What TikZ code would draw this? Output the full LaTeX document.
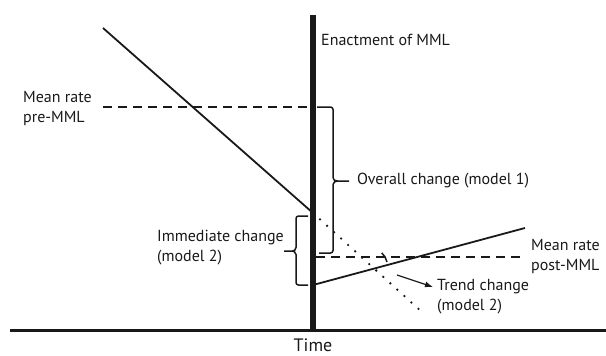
\documentclass[tikz,border=0pt]{standalone}
\usepackage{fontspec}
\setmainfont{PT Sans}
\usetikzlibrary{arrows.meta}
\begin{document}
\begin{tikzpicture}[x=1pt,y=-1pt,
  lbl/.style={font=\fontsize{16}{20}\selectfont, align=left, inner sep=0pt, text=black!90},
  trendline/.style={line width=1.8pt, black!90},
  meanline/.style={line width=1.8pt, black!90, dash pattern=on 9pt off 6pt},
  projline/.style={line width=2.6pt, black!90, line cap=round, dash pattern=on 0pt off 9.5pt},
  bracket/.style={line width=1.5pt, black!90, rounded corners=2.5pt},
  axis/.style={line width=3pt, black!90}]
\useasboundingbox (0,0) rectangle (606,356);

% axes: event line and time axis
\coordinate (evtop) at (313,15);
\coordinate (evbot) at (313,331);
\coordinate (axl) at (10,330);
\coordinate (axr) at (606,330);
\draw[axis] (axl) -- (axr);
\draw[line width=6pt, black!90] (evtop) -- (evbot);
\node[lbl, font=\fontsize{18}{20}\selectfont, anchor=center] (time) at (313,345) {Time};
\node[lbl, anchor=west] (enact) at (321,40) {Enactment of MML};

% pre-intervention trend and mean
\coordinate (pre0) at (103,28);
\coordinate (pre1) at (313,213);
\coordinate (proj) at (423,313);
\draw[trendline] (pre0) -- (pre1);
\draw[projline] (pre1) -- (proj);
\coordinate (mpre0) at (103,107);
\coordinate (mpre1) at (313,107);
\draw[meanline] (mpre0) -- (mpre1);
\node[lbl, anchor=west] (premean) at (23,108) {Mean rate\\pre-MML};

% post-intervention trend and mean
\coordinate (post0) at (313,285);
\coordinate (post1) at (525,228);
\draw[trendline] (post0) -- (post1);
\coordinate (mpost0) at (316,257);
\coordinate (mpost1) at (520,257);
\draw[meanline] (mpost0) -- (mpost1);
\node[lbl, anchor=west] (postmean) at (531,256) {Mean rate\\post-MML};

% overall change bracket
\draw[bracket] (317,107) -- (333,107) -- (333,175)
  .. controls (333,180) and (335,181) .. (340,181) -- (349,181)
  (340,181) .. controls (335,181) and (333,182) .. (333,187) -- (333,253) -- (319,253);
\node[lbl, anchor=west] (overall) at (357,181) {Overall change (model 1)};

% immediate change bracket
\draw[bracket] (308,216) -- (296,216) -- (296,245)
  .. controls (296,250) and (294,251) .. (290,251) -- (284,251)
  (290,251) .. controls (294,251) and (296,252) .. (296,257) -- (296,285) -- (308,285);
\node[lbl, anchor=east] (immed) at (284,248) {Immediate change\\(model 2)};

% trend change angle and pointer
\draw[line width=1.5pt, black!90] (387,262) arc[start angle=-12, end angle=-48, radius=17];
\coordinate (ptr0) at (397,275);
\node[lbl, anchor=west] (trend) at (437,297) {Trend change\\(model 2)};
\draw[line width=1.2pt, black!90, -{Latex[length=8pt,width=6pt]}] (ptr0) -- (433,287);
\end{tikzpicture}
\end{document}
